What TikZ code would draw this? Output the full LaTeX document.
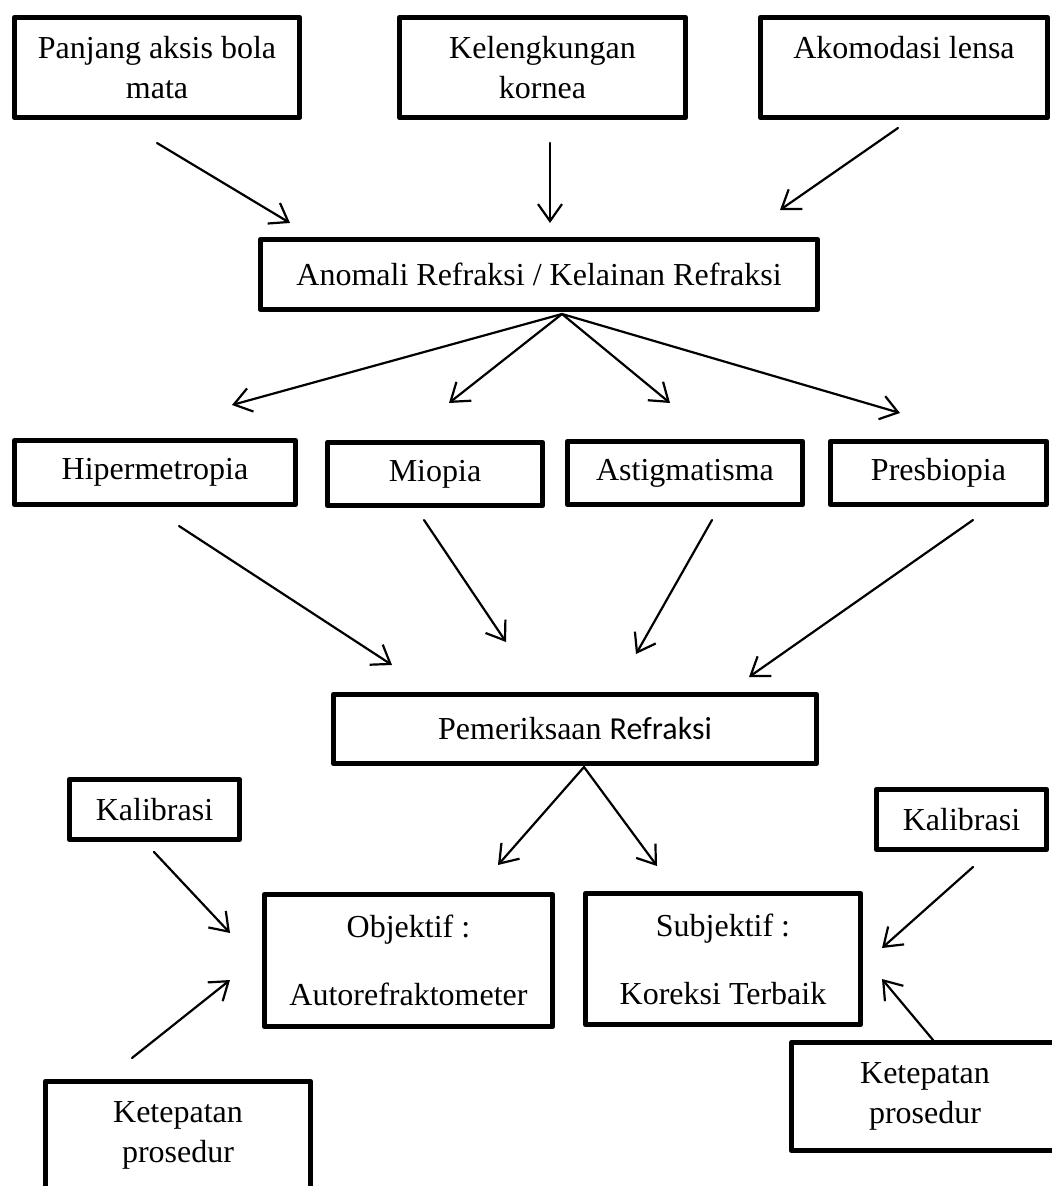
\documentclass[tikz,border=0pt]{standalone}
\usepackage{fontspec}
\setmainfont{Liberation Serif}
\newfontfamily\calibrifont{Carlito}
\usetikzlibrary{arrows.meta}

\begin{document}
\begin{tikzpicture}[x=.5pt, y=-.5pt, every node/.style={font=\fontsize{16}{20}\selectfont}, line cap=round, line join=round]
  \tikzset{kotak/.style={draw=black, line width=2.4pt, align=center, inner sep=0pt}, panah/.style={draw=black, line width=1.1pt, -{Straight Barb[length=8.5pt,width=12pt]}}}
  \useasboundingbox (0,0) rectangle (1052,1186);
  \clip (0,0) rectangle (1052,1186);

  % faktor
  \node[kotak, minimum width=142.8pt, minimum height=50.3pt] (panjang) at (157,67.5) {Panjang aksis bola\\mata};
  \node[kotak, minimum width=143.3pt, minimum height=50.3pt] (kornea) at (542.5,67.5) {Kelengkungan\\kornea};
  \node[kotak, minimum width=143.8pt, minimum height=50.3pt] (akomodasi) at (904,67.5) {Akomodasi lensa\\\phantom{x}};

  % anomali
  \node[kotak, minimum width=278.8pt, minimum height=35.3pt] (anomali) at (539,274.5) {Anomali Refraksi / Kelainan Refraksi};

  % jenis
  \node[kotak, minimum width=140.8pt, minimum height=32.3pt] (hiper) at (155,472.5) {Hipermetropia};
  \node[kotak, minimum width=107.8pt, minimum height=31.8pt] (miopia) at (435,474) {Miopia};
  \node[kotak, minimum width=117.8pt, minimum height=31.8pt] (astig) at (685,473) {Astigmatisma};
  \node[kotak, minimum width=108.3pt, minimum height=31.8pt] (presbi) at (938.5,473) {Presbiopia};

  % pemeriksaan
  \node[kotak, minimum width=241.8pt, minimum height=34.8pt] (periksa) at (575,729) {Pemeriksaan {\calibrifont Refraksi}};
  \node[kotak, minimum width=144.3pt, minimum height=66.3pt] (objektif) at (408.5,960.5) {Objektif :\\[14pt]Autorefraktometer};
  \node[kotak, minimum width=137.8pt, minimum height=65.8pt] (subjektif) at (723,959) {Subjektif :\\[14pt]Koreksi Terbaik};

  % pendukung
  \node[kotak, minimum width=85.3pt, minimum height=30.3pt] (kalkiri) at (154.5,809.5) {Kalibrasi};
  \node[kotak, minimum width=85.3pt, minimum height=30.3pt] (kalkanan) at (961.5,819.5) {Kalibrasi};
  \node[kotak, minimum width=132.8pt, minimum height=54.3pt] (tepatkiri) at (178,1135.5) {Ketepatan\\prosedur};
  \node[kotak, minimum width=133.8pt, minimum height=54.3pt] (tepatkanan) at (925,1096.5) {Ketepatan\\prosedur};

  % ujung panah
  \foreach \n/\x/\y in {a1/157/143,a2/290/223,b1/550/143,b2/550/223,c1/898/128,c2/780/210,
      puncak/562/314,h/232/405,m/449/403,s/670/403,p/900/413,
      h1/179/526,h2/392/665,m1/424/520,m2/506/642,s1/712/520,s2/636/654,p1/973/520,p2/749/677,
      puncak2/584/767,o/498/865,j/657/866,
      k1/154/852,k2/230/933,t1/132/1058,t2/230/980,k3/973/867,k4/882/948,t3/933/1040,t4/882/979}
    \coordinate (\n) at (\x,\y);

  \foreach \u/\v in {a1/a2,b1/b2,c1/c2,puncak/h,puncak/m,puncak/s,puncak/p,h1/h2,m1/m2,s1/s2,p1/p2,puncak2/o,puncak2/j,k1/k2,t1/t2,k3/k4,t3/t4}
    \draw[panah] (\u) -- (\v);
\end{tikzpicture}
\end{document}
